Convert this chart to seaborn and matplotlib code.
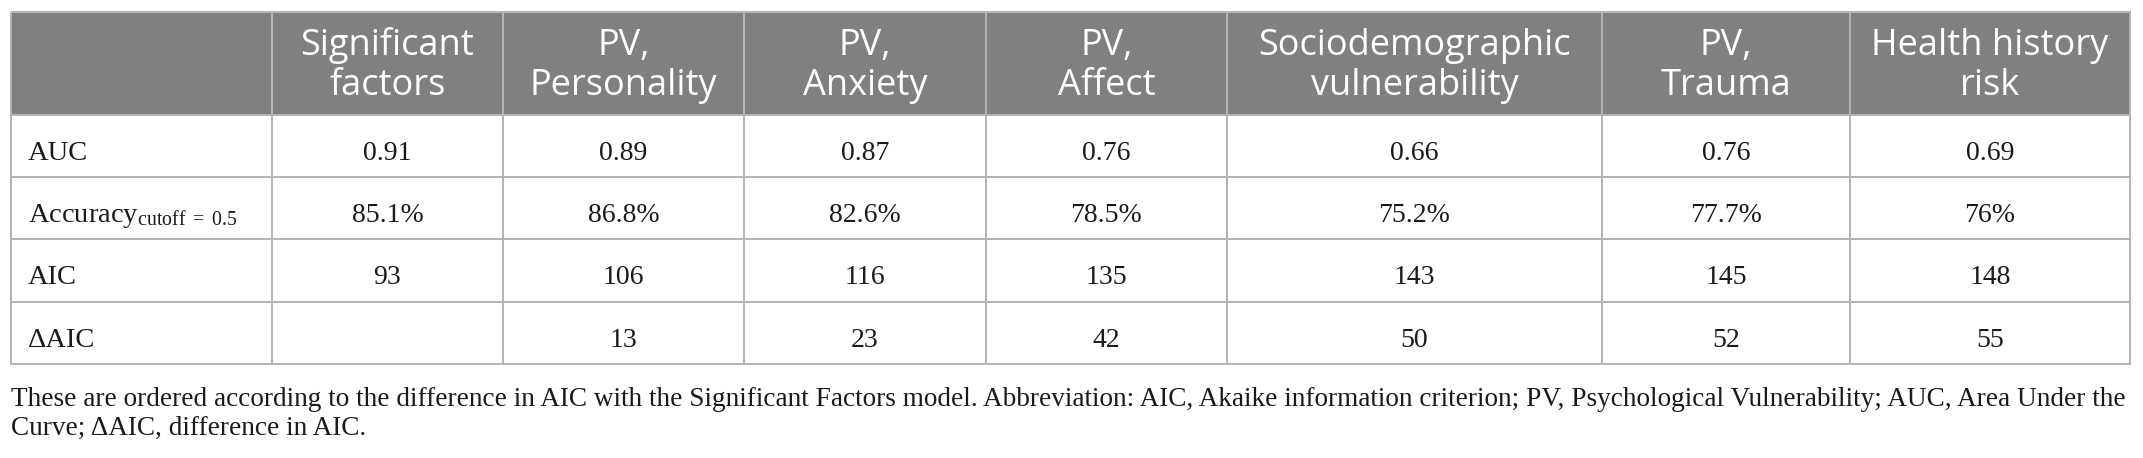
import numpy as np
import pandas as pd
import matplotlib
matplotlib.use("Agg")
import matplotlib.pyplot as plt
from matplotlib.colors import ListedColormap
import seaborn as sns

# ---------------- data ----------------
models = ["Significant\nfactors", "PV,\nPersonality", "PV,\nAnxiety", "PV,\nAffect",
          "Sociodemographic\nvulnerability", "PV,\nTrauma", "Health history\nrisk"]
row_labels = ["AUC", r"Accuracy$_{\mathrm{cutoff}\ =\ 0.5}$", "AIC", "\u0394AIC"]
auc = [0.91, 0.89, 0.87, 0.76, 0.66, 0.76, 0.69]
accuracy = [85.1, 86.8, 82.6, 78.5, 75.2, 77.7, 76]
aic = [93, 106, 116, 135, 143, 145, 148]
delta_aic = [None, 13, 23, 42, 50, 52, 55]
caption_lines = [
    "These are ordered according to the difference in AIC with the Significant Factors model. "
    "Abbreviation: AIC, Akaike information criterion; PV, Psychological Vulnerability; AUC, Area Under the",
    "Curve; \u0394AIC, difference in AIC.",
]

# ---------------- style ----------------
sns.set_theme(style="white")
plt.rcParams["font.family"] = ["Liberation Serif", "DejaVu Serif"]
plt.rcParams["mathtext.fontset"] = "custom"
plt.rcParams["mathtext.rm"] = "Liberation Serif"
plt.rcParams["mathtext.it"] = "Liberation Serif:italic"
plt.rcParams["mathtext.bf"] = "Liberation Serif:bold"

W, H, DPI = 2143, 458, 100
HEADER_BG = "#808080"
GRID = "#b4b4b4"
BODY_FS = 20
LABEL_FS = 20.5
HEAD_FS = 26
HEAD_FAMILY = ["Open Sans", "DejaVu Sans"]
TEXT_C = "#1a1a1a"

# cell geometry (pixels) -- layout only
col_px = np.array([11, 272, 503, 744, 986, 1227, 1602, 1850, 2130], dtype=float)
row_px = np.array([12, 115, 177, 239, 302, 364], dtype=float)

# ---------------- table content ----------------
def fmt_acc(v):
    return f"{v:g}%"

body = [
    [f"{v:.2f}" for v in auc],
    [fmt_acc(v) for v in accuracy],
    [f"{v}" for v in aic],
    ["" if v is None else f"{v}" for v in delta_aic],
]
ncol = len(models) + 1
nrow = len(row_labels) + 1
kind = np.zeros((nrow, ncol))
kind[0, :] = 1  # header row shaded
df = pd.DataFrame(kind)

fig = plt.figure(figsize=(W / DPI, H / DPI), dpi=DPI)
ax = fig.add_axes([col_px[0] / W, 1 - row_px[-1] / H,
                   (col_px[-1] - col_px[0]) / W, (row_px[-1] - row_px[0]) / H])

xe = np.arange(ncol + 1, dtype=float)
xp = col_px - col_px[0]
ye = np.arange(nrow + 1, dtype=float)
yp = row_px - row_px[0]

ax.set_xscale("function", functions=(lambda x: np.interp(x, xe, xp),
                                     lambda x: np.interp(x, xp, xe)))
ax.set_yscale("function", functions=(lambda y: np.interp(y, ye, yp),
                                     lambda y: np.interp(y, yp, ye)))

sns.heatmap(df, ax=ax, cmap=ListedColormap(["white", HEADER_BG]), vmin=0, vmax=1,
            cbar=False, linewidths=1.2, linecolor=GRID,
            xticklabels=False, yticklabels=False)
ax.set_xlim(0, ncol)
ax.set_ylim(nrow, 0)
ax.collections[0].set_clip_on(False)
ax.tick_params(left=False, bottom=False)
for s in ax.spines.values():
    s.set_visible(False)

# header texts
for j, name in enumerate(models, start=1):
    lines = name.split("\n")
    offs = [8.5, -31.5] if len(lines) == 2 else [-12]
    for line, off in zip(lines, offs):
        ax.annotate(line, xy=(j + 0.5, 0.5), xytext=(0, off), textcoords="offset pixels",
                    ha="center", va="baseline", color="white", fontsize=HEAD_FS,
                    family=HEAD_FAMILY)

# body texts
for i, lab in enumerate(row_labels, start=1):
    ax.annotate(lab, xy=(0, i + 0.5), xytext=(16.5, -14), textcoords="offset pixels",
                ha="left", va="baseline", color=TEXT_C, fontsize=LABEL_FS)
    for j, val in enumerate(body[i - 1], start=1):
        if val:
            ax.annotate(val, xy=(j + 0.5, i + 0.5), xytext=(0, -14),
                        textcoords="offset pixels", ha="center", va="baseline",
                        color=TEXT_C, fontsize=BODY_FS)

# caption
cap_fs = 19
t1 = fig.text(11 / W, 1 - 405.5 / H, caption_lines[0], ha="left", va="baseline",
              fontsize=cap_fs, color=TEXT_C)
t2 = fig.text(11 / W, 1 - 434.5 / H, caption_lines[1], ha="left", va="baseline",
              fontsize=cap_fs, color=TEXT_C)
r = fig.canvas.get_renderer()
wpx = t1.get_window_extent(r).width
new_fs = cap_fs * 2117 / wpx
t1.set_fontsize(new_fs)
t2.set_fontsize(new_fs)

fig.savefig("out.png", dpi=DPI, facecolor="white")
